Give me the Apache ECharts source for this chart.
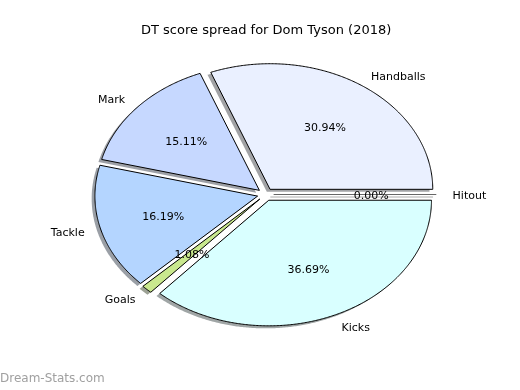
<!DOCTYPE html>
<html>
<head>
<meta charset="utf-8">
<script src="https://cdn.jsdelivr.net/npm/echarts@6/dist/echarts.min.js"></script>
<style>html,body{margin:0;padding:0;background:#fff}#c{width:520px;height:390px}</style>
</head>
<body>
<div id="c"></div>
<script>
const titleText = 'DT score spread for Dom Tyson (2018)';
const categories = ['Handballs', 'Mark', 'Tackle', 'Goals', 'Kicks', 'Hitout'];
const values = [30.94, 15.11, 16.19, 1.08, 36.69, 0.00];
const pctLabels = ['30.94%', '15.11%', '16.19%', '1.08%', '36.69%', '0.00%'];
const palette = ['#eaf0ff', '#c6d8ff', '#b4d5ff', '#c9e88e', '#d9ffff', '#ffe4c4'];

const FONT = 'DejaVu Sans';
const EXPLODE = 0.05;
const TEXT_DY = 1.5;
const total = values.reduce((a, b) => a + b, 0);

function wedgeAngles(i) {
  let before = 0;
  for (let k = 0; k < i; k++) before += values[k];
  const a0 = before / total * 2 * Math.PI;
  const a1 = (before + values[i]) / total * 2 * Math.PI;
  return [a0, a1, (a0 + a1) / 2];
}

function wedgePoints(api, i, ox, oy) {
  const [a0, a1, am] = wedgeAngles(i);
  const cx = EXPLODE * Math.cos(am) + ox, cy = EXPLODE * Math.sin(am) + oy;
  const pts = [api.coord([cx, cy])];
  const n = Math.max(2, Math.ceil((a1 - a0) / (Math.PI / 360)));
  for (let s = 0; s <= n; s++) {
    const t = a0 + (a1 - a0) * s / n;
    pts.push(api.coord([cx + Math.cos(t), cy + Math.sin(t)]));
  }
  return pts;
}

function shadowColor(hex) {
  const r = parseInt(hex.slice(1, 3), 16), g = parseInt(hex.slice(3, 5), 16), b = parseInt(hex.slice(5, 7), 16);
  return 'rgba(' + Math.round(r * 0.3) + ',' + Math.round(g * 0.3) + ',' + Math.round(b * 0.3) + ',0.5)';
}

const seriesData = categories.map((c, i) => ({ name: c, value: [i, values[i]] }));

const chart = echarts.init(document.getElementById('c'));
chart.setOption({
  animation: false,
  backgroundColor: '#ffffff',
  title: {
    text: titleText,
    left: 141,
    top: 24,
    padding: 0,
    textStyle: { fontFamily: FONT, fontSize: 13, fontWeight: 'normal', color: '#000' }
  },
  grid: { left: 62.1, top: 37.5, width: 406.75, height: 314, containLabel: false },
  xAxis: { type: 'value', min: -1.25, max: 1.25, show: false },
  yAxis: { type: 'value', min: -1.25, max: 1.25, show: false },
  graphic: [{
    type: 'text', left: 0, top: 373,
    style: { text: 'Dream-Stats.com', fontFamily: FONT, fontSize: 12, fill: '#a0a0a0' }
  }],
  series: [
    {
      type: 'custom', z: 1, silent: true,
      data: seriesData,
      renderItem: function (params, api) {
        const i = api.value(0);
        const pts = wedgePoints(api, i, -0.02, -0.02);
        if (values[i] === 0) {
          return { type: 'polyline', shape: { points: pts }, style: { stroke: 'rgba(90,90,90,0.5)', lineWidth: 1, fill: null } };
        }
        return { type: 'polygon', shape: { points: pts }, style: { fill: shadowColor(palette[i]), stroke: null } };
      }
    },
    {
      type: 'custom', z: 2, silent: true,
      data: seriesData,
      renderItem: function (params, api) {
        const i = api.value(0);
        const [a0, a1, am] = wedgeAngles(i);
        const ex = EXPLODE * Math.cos(am), ey = EXPLODE * Math.sin(am);
        const pts = wedgePoints(api, i, 0, 0);
        const lx = ex + 1.1 * Math.cos(am), ly = ey + 1.1 * Math.sin(am);
        const lp = api.coord([lx, ly]);
        const pp = api.coord([ex + 0.6 * Math.cos(am), ey + 0.6 * Math.sin(am)]);
        const children = [];
        if (values[i] === 0) {
          children.push({ type: 'polyline', shape: { points: pts }, style: { stroke: '#000', lineWidth: 1, fill: null, opacity: 0.6 } });
        } else {
          children.push({ type: 'polygon', shape: { points: pts }, style: { fill: palette[i], stroke: '#000', lineWidth: 1, lineJoin: 'miter' } });
        }
        children.push({
          type: 'text', x: lp[0], y: lp[1] + TEXT_DY, z2: 10,
          style: { text: categories[i], fontFamily: FONT, fontSize: 11, fill: '#000', align: lx > 0 ? 'left' : 'right', verticalAlign: 'middle' }
        });
        children.push({
          type: 'text', x: pp[0], y: pp[1] + TEXT_DY, z2: 10,
          style: { text: pctLabels[i], fontFamily: FONT, fontSize: 11, fill: '#000', align: 'center', verticalAlign: 'middle' }
        });
        return { type: 'group', children: children };
      }
    }
  ]
});
</script>
</body>
</html>
